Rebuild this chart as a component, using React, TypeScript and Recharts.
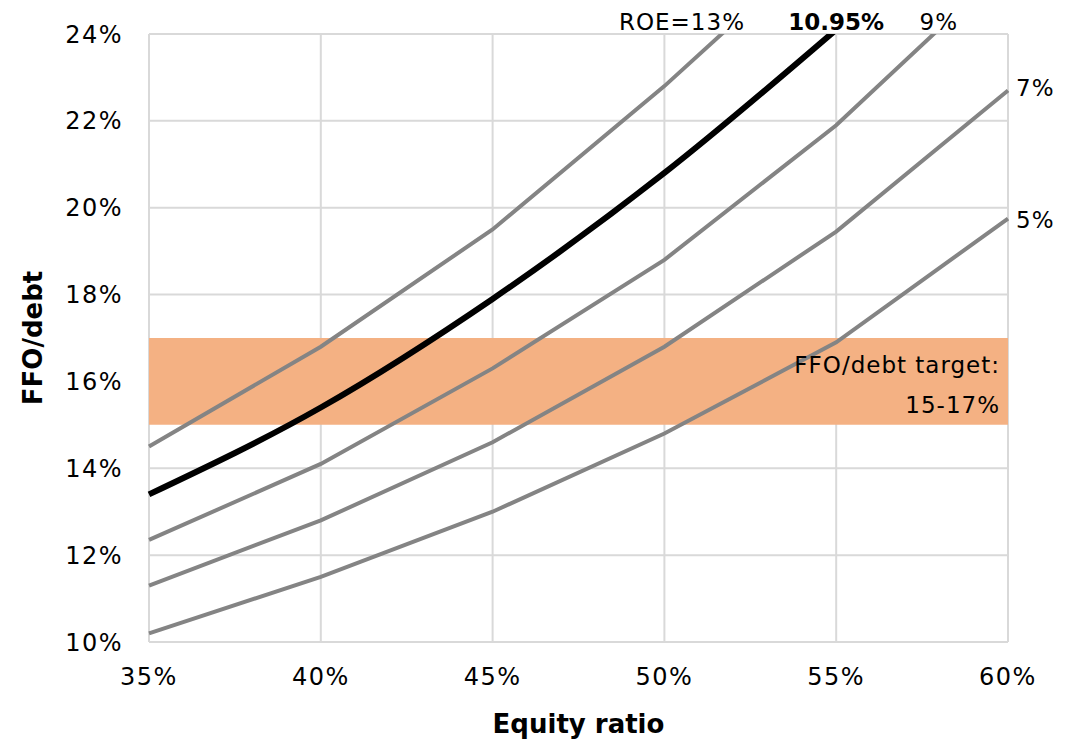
import React from 'react';
import { LineChart, Line, XAxis, YAxis, CartesianGrid, ReferenceArea } from 'recharts';

const equityRatio = [35, 40, 45, 50, 55, 60];
const roe13 = [14.5, 16.8, 19.5, 22.8, 26.4, null];
const roe1095 = [13.4, 15.4, 17.9, 20.8, 24.1, null];
const roe9 = [12.35, 14.1, 16.3, 18.8, 21.9, 25.6];
const roe7 = [11.3, 12.8, 14.6, 16.8, 19.45, 22.7];
const roe5 = [10.2, 11.5, 13.0, 14.8, 16.9, 19.75];

const yTicks = [10, 12, 14, 16, 18, 20, 22, 24];
const targetLow = 15;
const targetHigh = 17;

const data = equityRatio.map((x, i) => ({
  x,
  r13: roe13[i],
  r1095: roe1095[i],
  r9: roe9[i],
  r7: roe7[i],
  r5: roe5[i],
}));

const font = '"DejaVu Sans", sans-serif';
const grey = '#848484';
const tickStyle = { fontFamily: font, fontSize: 24, fill: '#000', letterSpacing: 1.5 };

// text on top of everything (the target label sits over the 5% line)
function Labels() {
  return (
    <svg
      width={1081}
      height={741}
      style={{ position: 'absolute', left: 0, top: 0, pointerEvents: 'none' }}
    >
      <g fontFamily={font} fontSize={23} fill="#000" letterSpacing={1}>
        <text x={745} y={30} textAnchor="end">ROE=13%</text>
        <text x={884} y={30} textAnchor="end" fontWeight="bold" letterSpacing={0}>10.95%</text>
        <text x={958} y={30} textAnchor="end">9%</text>
        <text x={1016} y={96}>7%</text>
        <text x={1016} y={228}>5%</text>
        <text x={1000} y={373} textAnchor="end">FFO/debt target:</text>
        <text x={1000} y={413} textAnchor="end">15-17%</text>
      </g>
    </svg>
  );
}

export default function App() {
  return (
    <div style={{ position: 'absolute', left: 0, top: 0, width: 1081, height: 741, background: '#fff' }}>
      <LineChart
        width={1081}
        height={741}
        data={data}
        margin={{ top: 34, right: 73, left: 0, bottom: 0 }}
      >
        <CartesianGrid stroke="#d9d9d9" strokeWidth={2} horizontalValues={yTicks} verticalValues={equityRatio} />
        <ReferenceArea
          y1={targetLow}
          y2={targetHigh}
          x1={35}
          x2={60}
          fill="#f4b183"
          fillOpacity={1}
          stroke="none"
        />
        <XAxis
          dataKey="x"
          type="number"
          domain={[35, 60]}
          ticks={equityRatio}
          tickFormatter={(v) => `${v}%`}
          axisLine={false}
          tickLine={false}
          tickSize={0}
          tickMargin={26}
          height={99}
          tick={tickStyle}
          label={{ value: 'Equity ratio', position: 'insideBottom', offset: 8, style: { fontFamily: font, fontSize: 26, fontWeight: 'bold', fill: '#000' } }}
        />
        <YAxis
          type="number"
          domain={[10, 24]}
          ticks={yTicks}
          allowDataOverflow
          tickFormatter={(v) => `${v}%`}
          axisLine={false}
          tickLine={false}
          tickSize={0}
          tickMargin={26}
          width={149}
          tick={tickStyle}
          label={{ value: 'FFO/debt', angle: -90, position: 'insideLeft', offset: 33, style: { fontFamily: font, fontSize: 26, fontWeight: 'bold', fill: '#000', textAnchor: 'middle' } }}
        />
        <Line dataKey="r13" stroke={grey} strokeWidth={4} dot={false} isAnimationActive={false} type="linear" />
        <Line dataKey="r9" stroke={grey} strokeWidth={4} dot={false} isAnimationActive={false} type="linear" />
        <Line dataKey="r7" stroke={grey} strokeWidth={4} dot={false} isAnimationActive={false} type="linear" />
        <Line dataKey="r5" stroke={grey} strokeWidth={4} dot={false} isAnimationActive={false} type="linear" />
        <Line dataKey="r1095" stroke="#000" strokeWidth={6} dot={false} isAnimationActive={false} type="monotone" />
      </LineChart>
      <Labels />
    </div>
  );
}
